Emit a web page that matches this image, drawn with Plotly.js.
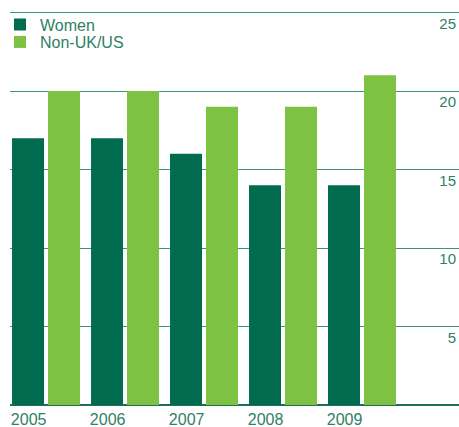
<!DOCTYPE html>
<html>
<head>
<meta charset="utf-8">
<script src="https://cdn.plot.ly/plotly-3.0.1.min.js"></script>
<style>html,body{margin:0;padding:0;background:#fff;}#chart{width:459px;height:427px;}</style>
</head>
<body>
<div id="chart"></div>
<script>
const years = [2005, 2006, 2007, 2008, 2009];
const yearLabels = ['2005', '2006', '2007', '2008', '2009'];
const women = [17, 17, 16, 14, 14];
const nonUkUs = [20, 20, 19, 19, 21];
const yTicks = [5, 10, 15, 20, 25];

const textColor = '#2f8066';
const fontFamily = '"Liberation Sans", Arial, sans-serif';

const traces = [
  { type: 'bar', name: 'Women', x: years, y: women, marker: { color: '#006b4f' }, hoverinfo: 'skip', legend: 'legend' },
  { type: 'bar', name: 'Non-UK/US', x: years, y: nonUkUs, marker: { color: '#7dc242' }, hoverinfo: 'skip', legend: 'legend2' }
];

const legendBase = {
  xref: 'container', yref: 'container',
  xanchor: 'left', yanchor: 'middle',
  bgcolor: 'rgba(0,0,0,0)', borderwidth: 0,
  font: { family: fontFamily, size: 16, color: textColor },
  itemclick: false, itemdoubleclick: false
};

const layout = {
  width: 459, height: 427,
  margin: { l: 10, r: 0, t: 11, b: 22, pad: 0, autoexpand: false },
  paper_bgcolor: '#fff', plot_bgcolor: '#fff',
  font: { family: fontFamily, size: 15, color: textColor },
  barmode: 'group', bargap: 0.089, bargroupgap: 0.111,
  showlegend: true,
  legend: Object.assign({}, legendBase, { x: 0, y: 1 - 24.5 / 427 }),
  legend2: Object.assign({}, legendBase, { x: 0, y: 1 - 42 / 427 }),
  xaxis: {
    type: 'linear',
    range: [2004.544, 2010.228],
    tickvals: years.map(v => v - 0.22),
    ticktext: yearLabels,
    showgrid: false, zeroline: false, showline: false,
    ticks: '', ticklen: 0,
    ticklabelstandoff: 3,
    tickfont: { family: fontFamily, size: 16, color: textColor },
    fixedrange: true
  },
  yaxis: {
    range: [0, 25.1],
    side: 'right',
    tickvals: yTicks,
    ticktext: yTicks.map(String),
    ticklabelposition: 'inside',
    ticklabelshift: 11,
    ticks: '',
    showgrid: true, gridcolor: '#3f9478', gridwidth: 1,
    zeroline: true, zerolinecolor: '#1f6e5a', zerolinewidth: 2,
    showline: false,
    tickfont: { family: fontFamily, size: 15, color: textColor },
    fixedrange: true
  }
};

Plotly.newPlot('chart', traces, layout, { displayModeBar: false, staticPlot: true });
</script>
</body>
</html>
